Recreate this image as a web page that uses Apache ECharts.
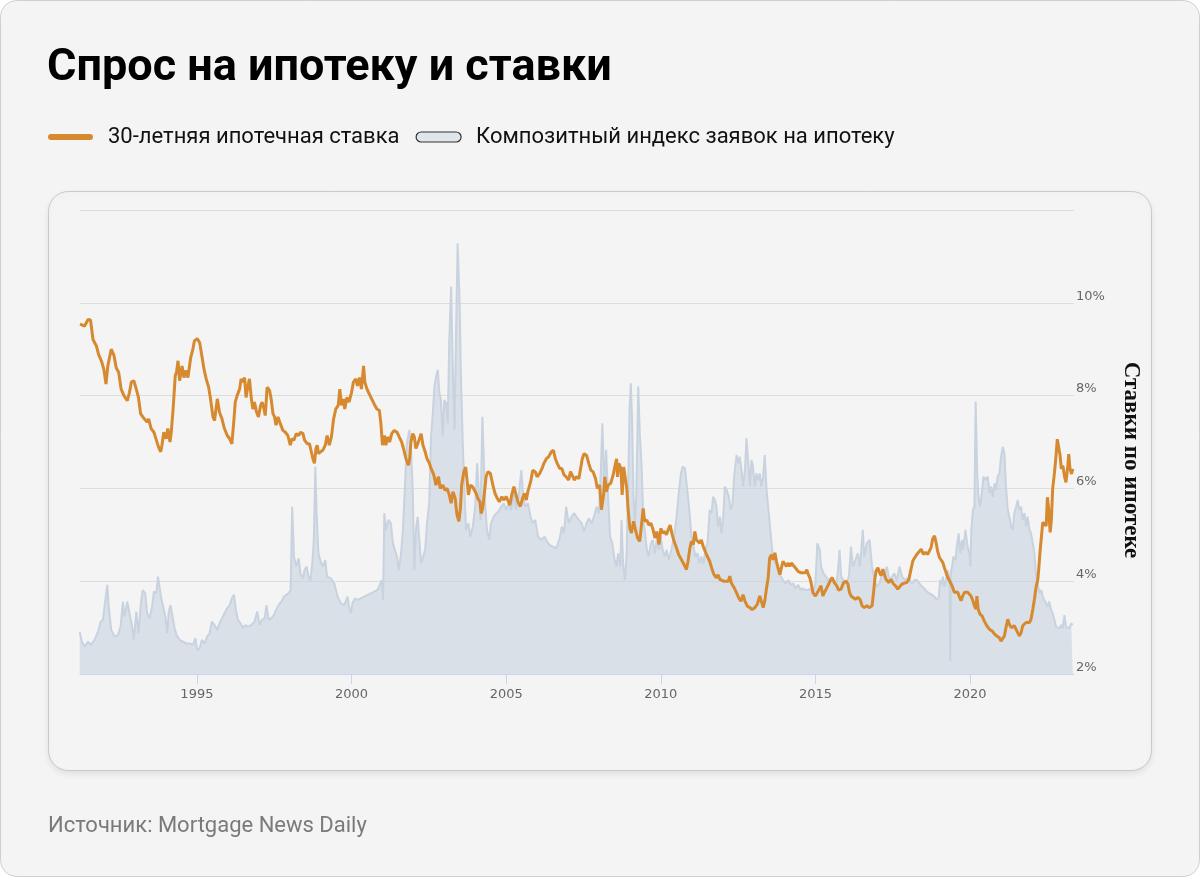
<!DOCTYPE html>
<html><head><meta charset="utf-8">
<script src="https://cdn.jsdelivr.net/npm/echarts/dist/echarts.min.js"></script>
<style>html,body{margin:0;padding:0;background:#fff}#chart{width:1200px;height:877px}</style>
</head><body><div id="chart"></div>
<script>
const titleText = 'Спрос на ипотеку и ставки';
const rateName = '30-летняя ипотечная ставка';
const indexName = 'Композитный индекс заявок на ипотеку';
const axisName = 'Ставки по ипотеке';
const sourceText = 'Источник: Mortgage News Daily';
const yearTicks = [1995, 2000, 2005, 2010, 2015, 2020];

// 30-year mortgage rate, % — [decimal year, value]
const ratePoints = [
[1991.22,9.54],[1991.26,9.57],[1991.37,9.50],[1991.48,9.64],[1991.56,9.63],[1991.64,9.21],[1991.75,9.07],[1991.82,8.89],[1991.91,8.75],[1991.99,8.57],
[1992.06,8.25],[1992.12,8.64],[1992.23,9.00],[1992.32,8.86],[1992.39,8.60],[1992.47,8.50],[1992.55,8.14],[1992.64,8.00],[1992.75,7.89],[1992.82,8.07],[1992.88,8.29],[1992.96,8.32],
[1993.04,8.14],[1993.11,7.96],[1993.18,7.61],[1993.25,7.54],[1993.31,7.50],[1993.39,7.43],[1993.44,7.50],[1993.52,7.29],[1993.61,7.21],[1993.69,7.04],[1993.76,6.89],[1993.83,6.79],[1993.87,6.93],[1993.93,7.21],
[1994.01,7.07],[1994.06,7.29],[1994.13,7.00],[1994.17,7.21],[1994.23,7.71],[1994.30,8.43],[1994.34,8.50],[1994.39,8.75],[1994.44,8.32],[1994.52,8.64],[1994.58,8.39],[1994.64,8.54],[1994.71,8.39],[1994.80,8.82],[1994.87,9.00],[1994.92,9.18],
[1995.01,9.23],[1995.09,9.14],[1995.16,8.86],[1995.23,8.57],[1995.30,8.36],[1995.38,8.18],[1995.44,7.93],[1995.52,7.54],[1995.57,7.46],[1995.66,7.93],[1995.73,7.64],[1995.81,7.50],[1995.89,7.29],[1995.98,7.14],
[1996.06,7.07],[1996.13,6.96],[1996.20,7.50],[1996.24,7.86],[1996.30,8.00],[1996.38,8.14],[1996.43,8.36],[1996.49,8.29],[1996.54,8.39],[1996.59,7.96],[1996.65,8.21],[1996.70,8.36],[1996.76,7.93],[1996.81,7.71],[1996.86,7.86],[1996.93,7.64],[1996.99,7.54],
[1997.06,7.79],[1997.11,7.86],[1997.17,7.71],[1997.21,7.57],[1997.27,8.18],[1997.35,8.11],[1997.40,7.93],[1997.46,7.61],[1997.51,7.54],[1997.56,7.36],[1997.62,7.54],[1997.70,7.39],[1997.78,7.25],[1997.86,7.21],[1997.94,7.14],
[1998.02,6.93],[1998.07,7.07],[1998.14,7.04],[1998.21,7.18],[1998.29,7.14],[1998.35,7.21],[1998.43,7.18],[1998.48,7.04],[1998.57,6.96],[1998.64,6.96],[1998.70,6.79],[1998.75,6.64],[1998.80,6.54],[1998.85,6.86],[1998.89,6.93],[1998.93,6.75],
[1999.00,6.79],[1999.07,6.82],[1999.15,6.93],[1999.21,7.14],[1999.28,6.93],[1999.35,7.11],[1999.42,7.50],[1999.49,7.71],[1999.57,7.79],[1999.62,8.14],[1999.68,7.79],[1999.74,7.93],[1999.78,7.71],[1999.85,7.96],[1999.92,7.86],
[2000.00,8.07],[2000.06,8.29],[2000.14,8.36],[2000.19,8.21],[2000.26,8.39],[2000.32,8.14],[2000.39,8.64],[2000.43,8.29],[2000.50,8.14],[2000.57,8.04],[2000.65,7.93],[2000.73,7.82],[2000.82,7.71],[2000.90,7.68],[2000.95,7.39],
[2001.00,6.93],[2001.06,7.14],[2001.11,6.93],[2001.17,7.11],[2001.23,7.00],[2001.30,7.18],[2001.38,7.25],[2001.47,7.21],[2001.54,7.11],[2001.62,7.00],[2001.68,6.86],[2001.76,6.64],[2001.84,6.50],[2001.88,6.64],[2001.92,7.00],[2001.98,7.18],
[2002.03,7.11],[2002.08,6.86],[2002.14,6.96],[2002.19,7.00],[2002.25,7.18],[2002.31,6.93],[2002.38,6.79],[2002.44,6.64],[2002.52,6.54],[2002.57,6.43],[2002.66,6.29],[2002.73,6.07],[2002.81,6.25],[2002.87,6.00],[2002.95,6.07],
[2003.02,5.96],[2003.09,6.00],[2003.16,5.86],[2003.22,5.68],[2003.28,5.93],[2003.35,5.79],[2003.41,5.43],[2003.47,5.29],[2003.52,5.57],[2003.56,6.07],[2003.63,6.36],[2003.69,6.46],[2003.74,6.14],[2003.78,5.86],[2003.84,6.07],[2003.91,6.04],[2003.97,6.00],
[2004.03,5.89],[2004.08,5.79],[2004.15,5.71],[2004.19,5.46],[2004.24,5.57],[2004.30,5.93],[2004.35,6.25],[2004.41,6.36],[2004.49,6.32],[2004.57,6.07],[2004.64,5.89],[2004.71,5.79],[2004.78,5.71],[2004.86,5.82],[2004.92,5.75],
[2005.00,5.82],[2005.05,5.75],[2005.12,5.64],[2005.18,5.86],[2005.25,6.04],[2005.32,5.86],[2005.38,5.71],[2005.46,5.61],[2005.53,5.79],[2005.59,5.89],[2005.65,5.75],[2005.70,5.93],[2005.79,6.14],[2005.86,6.39],[2005.94,6.36],
[2006.00,6.25],[2006.08,6.32],[2006.16,6.43],[2006.22,6.54],[2006.30,6.64],[2006.37,6.68],[2006.46,6.79],[2006.53,6.82],[2006.59,6.64],[2006.65,6.54],[2006.73,6.43],[2006.80,6.43],[2006.87,6.29],[2006.94,6.25],
[2007.02,6.18],[2007.08,6.36],[2007.16,6.25],[2007.20,6.18],[2007.27,6.25],[2007.35,6.21],[2007.41,6.25],[2007.46,6.64],[2007.52,6.75],[2007.60,6.71],[2007.67,6.54],[2007.74,6.39],[2007.81,6.36],[2007.89,6.21],[2007.95,6.00],
[2008.02,6.07],[2008.08,5.54],[2008.15,5.86],[2008.19,6.25],[2008.24,5.93],[2008.30,6.07],[2008.38,6.11],[2008.46,6.29],[2008.51,6.46],[2008.57,6.64],[2008.60,6.25],[2008.64,6.54],[2008.71,6.43],[2008.75,5.86],[2008.80,6.46],[2008.86,6.46],[2008.90,6.00],[2008.94,5.57],
[2009.00,5.14],[2009.05,5.04],[2009.12,5.29],[2009.18,5.11],[2009.25,4.93],[2009.32,4.86],[2009.38,4.89],[2009.43,5.57],[2009.48,5.29],[2009.55,5.32],[2009.61,5.21],[2009.68,5.25],[2009.75,5.11],[2009.81,4.93],[2009.87,5.07],[2009.94,4.79],
[2010.00,5.14],[2010.06,5.04],[2010.13,5.07],[2010.18,5.00],[2010.24,5.11],[2010.30,5.21],[2010.37,5.00],[2010.43,4.86],[2010.51,4.71],[2010.58,4.57],[2010.67,4.46],[2010.75,4.36],[2010.83,4.25],[2010.88,4.43],[2010.94,4.71],[2010.99,4.86],
[2011.05,4.79],[2011.10,5.07],[2011.15,4.89],[2011.21,4.93],[2011.26,4.82],[2011.31,4.89],[2011.37,4.75],[2011.42,4.71],[2011.48,4.57],[2011.53,4.61],[2011.58,4.43],[2011.66,4.25],[2011.72,4.14],[2011.80,4.07],[2011.85,4.14],[2011.91,4.04],[2011.96,4.04],
[2012.03,4.00],[2012.09,3.96],[2012.18,4.00],[2012.23,4.11],[2012.28,3.96],[2012.37,3.86],[2012.45,3.75],[2012.52,3.64],[2012.59,3.57],[2012.66,3.71],[2012.72,3.57],[2012.80,3.46],[2012.88,3.43],[2012.95,3.39],
[2013.04,3.43],[2013.12,3.50],[2013.20,3.68],[2013.25,3.57],[2013.31,3.43],[2013.36,3.57],[2013.42,3.86],[2013.47,4.07],[2013.52,4.50],[2013.58,4.57],[2013.63,4.46],[2013.69,4.61],[2013.74,4.43],[2013.79,4.29],[2013.85,4.14],[2013.90,4.29],[2013.95,4.43],
[2014.01,4.46],[2014.06,4.32],[2014.12,4.39],[2014.17,4.32],[2014.22,4.39],[2014.28,4.39],[2014.35,4.29],[2014.44,4.21],[2014.53,4.18],[2014.60,4.18],[2014.67,4.18],[2014.72,4.25],[2014.77,4.14],[2014.82,4.07],[2014.87,3.93],[2014.92,3.75],
[2015.00,3.68],[2015.09,3.79],[2015.18,3.90],[2015.24,3.68],[2015.29,3.76],[2015.37,3.86],[2015.45,3.97],[2015.54,4.08],[2015.61,3.97],[2015.69,3.90],[2015.75,3.81],[2015.83,3.83],[2015.91,3.97],[2015.99,4.00],
[2016.05,3.94],[2016.10,3.76],[2016.15,3.68],[2016.21,3.68],[2016.29,3.61],[2016.37,3.65],[2016.44,3.61],[2016.51,3.47],[2016.58,3.43],[2016.66,3.47],[2016.75,3.43],[2016.83,3.47],[2016.88,3.76],[2016.92,4.04],[2016.96,4.22],
[2017.02,4.29],[2017.07,4.19],[2017.12,4.12],[2017.18,4.26],[2017.23,4.22],[2017.28,4.04],[2017.37,3.97],[2017.45,4.04],[2017.52,3.94],[2017.59,3.90],[2017.66,3.83],[2017.72,3.86],[2017.80,3.94],[2017.88,3.96],[2017.95,3.97],
[2018.02,4.04],[2018.09,4.26],[2018.15,4.44],[2018.21,4.47],[2018.28,4.58],[2018.34,4.62],[2018.42,4.69],[2018.49,4.58],[2018.56,4.62],[2018.63,4.58],[2018.69,4.55],[2018.74,4.73],[2018.79,4.91],[2018.85,4.98],[2018.90,4.83],[2018.95,4.65],
[2019.01,4.51],[2019.06,4.47],[2019.12,4.40],[2019.17,4.29],[2019.22,4.19],[2019.28,4.08],[2019.33,4.04],[2019.39,3.94],[2019.44,3.86],[2019.49,3.76],[2019.55,3.79],[2019.60,3.76],[2019.66,3.65],[2019.71,3.58],[2019.76,3.68],[2019.82,3.76],[2019.87,3.72],[2019.92,3.76],[2019.98,3.72],
[2020.03,3.68],[2020.09,3.58],[2020.14,3.47],[2020.19,3.40],[2020.22,3.68],[2020.26,3.40],[2020.32,3.29],[2020.39,3.25],[2020.46,3.14],[2020.54,3.04],[2020.63,2.96],[2020.71,2.93],[2020.79,2.86],[2020.86,2.82],[2020.95,2.78],
[2021.00,2.71],[2021.06,2.71],[2021.11,2.82],[2021.16,3.00],[2021.22,3.18],[2021.27,3.07],[2021.33,3.00],[2021.38,2.96],[2021.43,3.04],[2021.49,3.00],[2021.54,2.89],[2021.59,2.82],[2021.65,2.89],[2021.70,3.04],[2021.76,3.00],[2021.81,3.11],[2021.86,3.14],[2021.92,3.11],[2021.97,3.18],
[2022.03,3.40],[2022.08,3.61],[2022.13,3.86],[2022.19,4.04],[2022.22,4.26],[2022.26,4.62],[2022.31,4.98],[2022.35,5.27],[2022.40,5.30],[2022.46,5.19],[2022.50,5.81],[2022.54,5.55],[2022.59,5.05],[2022.63,5.34],[2022.67,5.99],[2022.73,6.35],[2022.78,6.71],[2022.82,7.06],[2022.87,7.06],[2022.91,6.71],[2022.95,6.42],
[2023.00,6.49],[2023.05,6.27],[2023.10,6.13],[2023.16,6.49],[2023.19,6.74],[2023.23,6.42],[2023.28,6.31],[2023.32,6.42]
];

// Composite mortgage application index — [decimal year, value]
const indexPoints = [
[1991.21,182],[1991.28,139],[1991.37,118],[1991.48,139],[1991.58,125],[1991.69,147],[1991.80,182],[1991.89,226],[1991.96,233],
[1992.04,319],[1992.10,384],[1992.16,276],[1992.23,190],[1992.34,161],[1992.45,168],[1992.53,204],[1992.61,312],[1992.66,247],[1992.75,312],[1992.82,262],[1992.90,211],[1992.96,147],
[1993.04,269],[1993.11,175],[1993.20,319],[1993.25,362],[1993.33,348],[1993.39,262],[1993.47,240],[1993.55,290],[1993.61,355],[1993.69,348],[1993.74,420],[1993.79,376],[1993.85,326],[1993.91,290],[1993.98,247],
[1994.04,175],[1994.09,269],[1994.15,297],[1994.21,247],[1994.28,197],[1994.34,168],[1994.44,147],[1994.55,139],[1994.66,132],[1994.76,132],[1994.87,125],[1994.95,154],
[1995.01,103],[1995.09,111],[1995.16,147],[1995.25,132],[1995.33,161],[1995.41,175],[1995.48,226],[1995.57,211],[1995.66,190],[1995.73,218],[1995.81,240],[1995.89,262],[1995.98,283],
[1996.06,297],[1996.13,326],[1996.20,341],[1996.26,276],[1996.33,233],[1996.41,218],[1996.49,197],[1996.56,211],[1996.65,204],[1996.76,211],[1996.86,226],[1996.95,269],
[1997.03,211],[1997.10,233],[1997.19,240],[1997.25,297],[1997.32,233],[1997.40,240],[1997.49,254],[1997.56,276],[1997.64,297],[1997.73,312],[1997.81,333],[1997.89,341],[1997.96,348],
[1998.03,362],[1998.08,721],[1998.14,506],[1998.21,463],[1998.29,499],[1998.35,434],[1998.43,412],[1998.48,448],[1998.55,463],[1998.61,420],[1998.67,398],[1998.74,491],[1998.78,578],[1998.83,894],[1998.87,693],[1998.93,520],
[1999.00,484],[1999.07,463],[1999.15,491],[1999.21,420],[1999.33,412],[1999.44,391],[1999.55,333],[1999.65,305],[1999.76,297],[1999.87,333],[1999.92,290],[1999.98,262],
[2000.03,305],[2000.11,326],[2000.19,319],[2000.30,326],[2000.41,333],[2000.52,341],[2000.63,348],[2000.73,355],[2000.84,362],[2000.93,391],[2000.97,405],
[2001.02,319],[2001.06,693],[2001.11,621],[2001.19,664],[2001.27,650],[2001.34,563],[2001.40,535],[2001.47,506],[2001.53,448],[2001.60,520],[2001.66,621],[2001.73,822],[2001.79,994],[2001.87,1052],[2001.92,980],[2001.98,793],
[2002.03,448],[2002.08,621],[2002.14,678],[2002.19,578],[2002.25,477],[2002.31,477],[2002.38,535],[2002.44,650],[2002.51,736],[2002.57,1023],[2002.62,1109],[2002.68,1239],[2002.73,1282],[2002.79,1311],[2002.84,1210],[2002.89,1181],[2002.95,1023],
[2003.00,1181],[2003.06,1167],[2003.11,1081],[2003.16,1440],[2003.22,1670],[2003.27,1339],[2003.33,1052],[2003.38,1483],[2003.43,1857],[2003.49,1627],[2003.54,1267],[2003.60,980],[2003.65,793],[2003.70,621],[2003.78,650],[2003.84,592],[2003.92,635],
[2004.00,721],[2004.06,908],[2004.10,822],[2004.17,664],[2004.23,1109],[2004.28,908],[2004.32,736],[2004.38,621],[2004.45,578],[2004.51,650],[2004.60,678],[2004.68,693],[2004.75,700],[2004.84,721],[2004.92,736],
[2005.00,707],[2005.08,736],[2005.16,707],[2005.25,779],[2005.32,707],[2005.40,764],[2005.49,879],[2005.55,764],[2005.62,721],[2005.70,736],[2005.79,678],[2005.86,650],[2005.94,664],
[2006.03,592],[2006.13,578],[2006.24,592],[2006.33,570],[2006.40,556],[2006.51,549],[2006.62,542],[2006.73,585],[2006.80,635],[2006.87,606],[2006.94,721],
[2007.02,650],[2007.11,678],[2007.20,693],[2007.27,678],[2007.35,664],[2007.44,650],[2007.52,614],[2007.60,650],[2007.67,671],[2007.76,650],[2007.84,678],[2007.92,721],
[2008.00,693],[2008.06,879],[2008.11,1081],[2008.17,822],[2008.23,966],[2008.30,750],[2008.36,592],[2008.43,563],[2008.49,506],[2008.56,463],[2008.62,520],[2008.69,463],[2008.73,664],[2008.78,477],[2008.84,405],[2008.89,506],[2008.94,779],[2008.99,1152],
[2009.03,1253],[2009.07,1109],[2009.12,750],[2009.16,650],[2009.21,779],[2009.27,1239],[2009.32,1038],[2009.38,894],[2009.43,678],[2009.48,621],[2009.55,535],[2009.61,506],[2009.68,563],[2009.74,578],[2009.81,520],[2009.87,578],[2009.94,535],
[2010.00,592],[2010.06,535],[2010.13,506],[2010.19,535],[2010.26,491],[2010.34,535],[2010.43,592],[2010.51,678],[2010.58,779],[2010.65,865],[2010.71,894],[2010.78,887],[2010.83,879],[2010.88,764],[2010.94,678],[2010.99,592],
[2011.06,549],[2011.12,506],[2011.19,520],[2011.25,477],[2011.31,506],[2011.38,477],[2011.44,535],[2011.51,563],[2011.58,707],[2011.64,693],[2011.69,764],[2011.75,750],[2011.80,721],[2011.85,635],[2011.91,678],[2011.96,606],
[2012.02,678],[2012.07,808],[2012.13,793],[2012.20,764],[2012.26,707],[2012.32,736],[2012.37,851],[2012.45,944],[2012.50,908],[2012.55,937],[2012.61,879],[2012.66,808],[2012.72,879],[2012.77,1016],[2012.82,923],[2012.88,808],[2012.93,923],[2012.98,894],
[2013.04,808],[2013.09,865],[2013.15,836],[2013.20,865],[2013.25,808],[2013.31,851],[2013.36,944],[2013.42,793],[2013.47,721],[2013.52,650],[2013.58,563],[2013.63,506],[2013.71,477],[2013.79,448],[2013.88,420],[2013.95,405],
[2014.03,391],[2014.12,405],[2014.20,384],[2014.28,391],[2014.35,369],[2014.44,384],[2014.53,362],[2014.60,369],[2014.68,362],[2014.76,362],[2014.85,369],[2014.92,348],
[2015.00,391],[2015.06,563],[2015.14,535],[2015.18,463],[2015.26,434],[2015.34,420],[2015.43,405],[2015.51,412],[2015.58,405],[2015.67,391],[2015.72,434],[2015.78,535],[2015.83,420],[2015.91,405],[2015.99,391],
[2016.08,420],[2016.15,549],[2016.21,463],[2016.29,491],[2016.37,520],[2016.44,463],[2016.53,621],[2016.58,506],[2016.66,563],[2016.75,578],[2016.83,463],[2016.91,405],[2016.98,376],
[2017.07,391],[2017.16,434],[2017.23,420],[2017.31,463],[2017.39,405],[2017.48,420],[2017.55,434],[2017.63,405],[2017.72,463],[2017.80,420],[2017.88,405],[2017.95,412],
[2018.04,405],[2018.12,391],[2018.20,405],[2018.28,405],[2018.36,391],[2018.45,376],[2018.52,369],[2018.60,355],[2018.69,348],[2018.77,341],[2018.85,333],[2018.92,319],[2018.99,333],
[2019.03,405],[2019.07,384],[2019.12,420],[2019.17,376],[2019.22,405],[2019.28,448],[2019.34,405],[2019.36,55],[2019.38,440],[2019.42,463],[2019.46,506],[2019.53,491],[2019.57,549],[2019.63,606],[2019.68,520],[2019.74,578],[2019.78,535],[2019.85,621],[2019.92,549],[2019.98,520],
[2020.01,463],[2020.04,621],[2020.09,707],[2020.14,721],[2020.18,1174],[2020.23,865],[2020.27,764],[2020.32,721],[2020.39,793],[2020.43,851],[2020.50,836],[2020.57,851],[2020.63,779],[2020.68,808],[2020.73,764],[2020.79,822],[2020.84,793],[2020.89,851],[2020.95,865],
[2021.00,937],[2021.06,980],[2021.11,951],[2021.16,808],[2021.22,707],[2021.27,678],[2021.33,635],[2021.38,621],[2021.43,693],[2021.49,721],[2021.54,750],[2021.59,707],[2021.65,721],[2021.70,664],[2021.76,693],[2021.81,635],[2021.86,678],[2021.92,621],[2021.97,606],
[2022.03,563],[2022.08,520],[2022.13,434],[2022.19,391],[2022.24,348],[2022.30,362],[2022.35,333],[2022.40,319],[2022.46,305],[2022.51,290],[2022.56,312],[2022.62,276],[2022.67,262],[2022.73,233],[2022.78,204],[2022.83,211],[2022.89,197],[2022.94,211],[2022.99,197],
[2023.05,254],[2023.10,204],[2023.16,211],[2023.21,197],[2023.27,218],[2023.32,211]
];

const ORANGE = '#d6892f';
const chart = echarts.init(document.getElementById('chart'), null, {renderer: 'canvas'});
chart.setOption({
  animation: false,
  backgroundColor: '#ffffff',
  textStyle: {fontFamily: 'Roboto'},
  graphic: [
    {type: 'rect', silent: true, z: -10, shape: {x: 0.5, y: 0.5, width: 1199, height: 876, r: 16},
      style: {fill: '#f4f4f4', stroke: '#cfcfcf', lineWidth: 1}},
    {type: 'rect', silent: true, z: -9, shape: {x: 48.5, y: 191.5, width: 1103, height: 579, r: 20},
      style: {fill: '#f4f4f4', stroke: '#c9c9c9', lineWidth: 1, shadowBlur: 6, shadowOffsetY: 3, shadowColor: 'rgba(0,0,0,0.08)'}},
    {type: 'text', silent: true, left: 48, top: 815,
      style: {text: sourceText, fill: '#7a7a7a', font: '22px Roboto'}}
  ],
  title: {
    text: titleText, left: 47, top: 46, padding: 0,
    textStyle: {fontSize: 45, fontWeight: 'bold', color: '#000', fontFamily: 'Roboto'}
  },
  legend: {
    left: 48, top: 126, padding: 0,
    itemWidth: 45, itemHeight: 10, itemGap: 16,
    textStyle: {fontSize: 22, color: '#111', fontFamily: 'Roboto', padding: [0, 0, 0, 10]},
    data: [
      {name: rateName, icon: 'path://M3,0H42A3,3,0,0,1,42,6H3A3,3,0,0,1,3,0Z', itemStyle: {color: ORANGE}},
      {name: indexName, icon: 'path://M5,0H40A5,5,0,0,1,40,10H5A5,5,0,0,1,5,0Z',
        itemStyle: {color: '#dfe6ec', borderColor: '#333', borderWidth: 1.2}}
    ]
  },
  grid: {left: 80, right: 126, top: 210, bottom: 203},
  xAxis: {
    type: 'value', min: 1991.22, max: 2023.36,
    axisLine: {lineStyle: {color: '#ccd6eb', width: 1}},
    axisTick: {show: true, customValues: yearTicks, length: 10, lineStyle: {color: '#ccd6eb'}},
    axisLabel: {customValues: yearTicks, formatter: v => String(v), color: '#666', fontSize: 13, fontFamily: 'DejaVu Sans', margin: 14},
    splitLine: {show: false}
  },
  yAxis: [
    {
      type: 'value', position: 'right', min: 2, max: 12, interval: 2,
      axisLine: {show: false}, axisTick: {show: false},
      splitLine: {lineStyle: {color: '#dddddd', width: 1}},
      axisLabel: {formatter: v => (v >= 12 ? '' : v + '%'), color: '#666', fontSize: 13, fontFamily: 'DejaVu Sans', margin: 2, verticalAlign: 'bottom'},
      name: axisName, nameLocation: 'middle', nameRotate: -90, nameGap: 45,
      nameTextStyle: {fontFamily: 'Liberation Serif', fontSize: 23, fontWeight: 'bold', color: '#111', padding: [0, 0, 0, 36]}
    },
    {type: 'value', min: 0, max: 2000, show: false}
  ],
  series: [
    {
      name: indexName, type: 'line', yAxisIndex: 1, data: indexPoints, symbol: 'none', z: 1,
      lineStyle: {color: '#c8d3df', width: 2}, itemStyle: {color: '#c8d3df'},
      areaStyle: {color: 'rgba(194,208,222,0.78)'}
    },
    {
      name: rateName, type: 'line', yAxisIndex: 0, data: ratePoints, symbol: 'none', z: 3,
      lineStyle: {color: ORANGE, width: 3}, itemStyle: {color: ORANGE}
    }
  ]
});
</script>
</body></html>
